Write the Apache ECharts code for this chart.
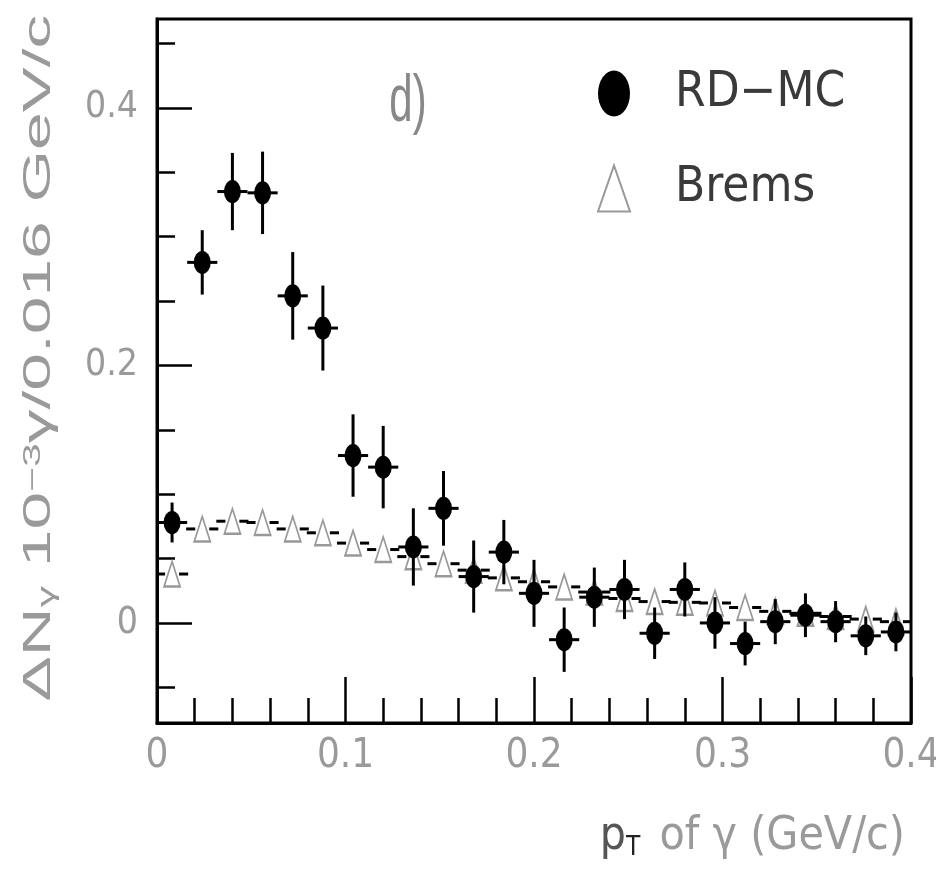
<!DOCTYPE html>
<html><head><meta charset="utf-8">
<script src="https://cdn.jsdelivr.net/npm/echarts@6/dist/echarts.min.js"></script>
<style>html,body{margin:0;padding:0;background:#fff}#c{width:936px;height:872px}</style>
</head><body><div id="c"></div>
<script>
// ---- data ----
const ptBins = [0.008,0.024,0.040,0.056,0.072,0.088,0.104,0.120,0.136,0.152,0.168,0.184,0.200,0.216,0.232,0.248,0.264,0.280,0.296,0.312,0.328,0.344,0.360,0.376,0.392];
const rdmc    = [0.078,0.280,0.335,0.334,0.254,0.229,0.130,0.121,0.059,0.089,0.036,0.055,0.023,-0.013,0.020,0.026,-0.008,0.026,0.000,-0.016,0.001,0.006,0.001,-0.010,-0.007];
const rdmcErr = [0.0155,0.025,0.030,0.032,0.034,0.033,0.032,0.032,0.030,0.029,0.028,0.025,0.026,0.025,0.023,0.023,0.020,0.021,0.020,0.017,0.0175,0.017,0.016,0.015,0.015];
const brems   = [0.038,0.073,0.079,0.078,0.073,0.070,0.062,0.057,0.0515,0.046,0.041,0.035,0.032,0.028,0.024,0.019,0.0166,0.016,0.0155,0.012,0.009,0.0075,0.005,0.003,0.001];
const binHalfWidth = 0.008;
const xTickValues = [0,0.1,0.2,0.3,0.4];
const xTickLabels = ['0','0.1','0.2','0.3','0.4'];
const yMajorTicks = [0,0.2,0.4];
const yTickLabels = ['0','0.2','0.4'];
const yMinorTicks = [-0.05,0.05,0.1,0.15,0.25,0.3,0.35,0.45];
const seriesNames = ['RD\u2212MC','Brems'];

const NARROW = "'Liberation Sans Narrow','DejaVu Sans Condensed','Liberation Sans',sans-serif";
const GREY = '#9a9a9a';
const yMin = -0.0777, yMax = 0.469;

const chart = echarts.init(document.getElementById('c'));

function rdErr(params, api){
  const x = api.value(0), y = api.value(1), e = api.value(2);
  const c = api.coord([x,y]), t = api.coord([x,y+e]), b = api.coord([x,y-e]);
  const l = api.coord([x-binHalfWidth,y]), r = api.coord([x+binHalfWidth,y]);
  const st = {stroke:'#000', lineWidth:3};
  return {type:'group', children:[
    {type:'line', shape:{x1:c[0],y1:t[1],x2:c[0],y2:b[1]}, style:st},
    {type:'line', shape:{x1:l[0],y1:c[1],x2:r[0],y2:c[1]}, style:st}
  ]};
}
function bremsErr(params, api){
  const x = api.value(0), y = api.value(1);
  const c = api.coord([x,y]);
  const l = api.coord([x-binHalfWidth,y]), r = api.coord([x+binHalfWidth,y]);
  const gap = 7;
  const st = {stroke:'#000', lineWidth:3};
  return {type:'group', children:[
    {type:'line', shape:{x1:l[0]-1,y1:c[1],x2:c[0]-gap,y2:c[1]}, style:st},
    {type:'line', shape:{x1:c[0]+gap,y1:c[1],x2:r[0]+1,y2:c[1]}, style:st}
  ]};
}
const fmt = (vals, labels) => v => { for (let i=0;i<vals.length;i++) if (Math.abs(vals[i]-v)<1e-9) return labels[i]; return ''; };

const ellipse = 'path://M0,23 A16,23 0 1,1 32,23 A16,23 0 1,1 0,23 Z';

chart.setOption({
  animation:false,
  backgroundColor:'#fff',
  grid:{left:157, right:25, top:19, bottom:149, containLabel:false, outerBoundsMode:'none',
        show:true, borderColor:'#000', borderWidth:3, backgroundColor:'transparent'},
  legend:{
    orient:'vertical', left:592, top:64, itemWidth:32, itemHeight:46, itemGap:46,
    symbolKeepAspect:false, selectedMode:false,
    data:seriesNames,
    textStyle:{fontSize:49, fontFamily:NARROW, color:'#3a3a3a', padding:[0,0,0,40]}
  },
  xAxis:{
    type:'value', min:0, max:0.4, interval:0.1,
    axisLine:{show:true, onZero:false, lineStyle:{color:'#000', width:3}},
    axisTick:{show:true, inside:true, length:46, lineStyle:{color:'#000', width:2.5}},
    minorTick:{show:true, splitNumber:5, length:25, lineStyle:{color:'#000', width:2.5}},
    splitLine:{show:false}, minorSplitLine:{show:false},
    axisLabel:{color:GREY, fontSize:40, fontFamily:NARROW, margin:14, formatter:fmt(xTickValues,xTickLabels)},
    name:'{p|p}{t|T} of \u03b3 (GeV/c)', nameLocation:'end', nameGap:-6,
    nameTextStyle:{align:'right', verticalAlign:'top', padding:[90,0,0,0], color:GREY, fontSize:46, fontFamily:NARROW,
      rich:{p:{color:'#555', fontSize:46, fontFamily:NARROW}, t:{color:'#222', fontSize:26, fontFamily:NARROW, verticalAlign:'bottom', padding:[22,6,0,0]}}}
  },
  yAxis:[{
    type:'value', min:yMin, max:yMax,
    axisLine:{show:true, onZero:false, lineStyle:{color:'#000', width:3}},
    axisTick:{show:true, inside:true, length:35, customValues:yMajorTicks, lineStyle:{color:'#000', width:2.5}},
    splitLine:{show:false},
    axisLabel:{color:GREY, fontSize:37, fontFamily:NARROW, margin:19, customValues:yMajorTicks, formatter:fmt(yMajorTicks,yTickLabels)}
  },{
    type:'value', min:yMin, max:yMax, position:'left',
    axisLine:{show:false, onZero:false},
    axisTick:{show:true, inside:true, length:18, customValues:yMinorTicks, lineStyle:{color:'#000', width:2.5}},
    splitLine:{show:false},
    axisLabel:{show:false}
  }],
  graphic:[
    {type:'text', x:40, y:358, rotation:Math.PI/2, scaleX:1.78, z:10,
     style:{text:'{n|\u0394N}{s|\u03b3} 10{p|\u22123}\u03b3/0.016 GeV/c', fill:GREY, fontSize:38, fontFamily:"'Liberation Sans',sans-serif", align:'center', verticalAlign:'middle',
       rich:{n:{fill:GREY, fontSize:38}, s:{fill:GREY, fontSize:24, verticalAlign:'bottom'}, p:{fill:GREY, fontSize:24, verticalAlign:'top'}}}},
    {type:'text', x:408, y:102, scaleY:1.6, z:10,
     style:{text:'d)', fill:'#888', fontSize:42, fontFamily:"'Liberation Sans',sans-serif", align:'center', verticalAlign:'middle'}}
  ],
  series:[
    {name:'Brems errors', type:'custom', renderItem:bremsErr, encode:{x:0,y:1}, z:2,
     data:ptBins.map((x,i)=>[x,brems[i]])},
    {name:seriesNames[1], type:'scatter', symbol:'triangle', symbolSize:[16,25], z:3,
     itemStyle:{color:'#fff', borderColor:'#999', borderWidth:2, opacity:1},
     data:ptBins.map((x,i)=>[x,brems[i]])},
    {name:'RD-MC errors', type:'custom', renderItem:rdErr, encode:{x:0,y:1}, z:4,
     data:ptBins.map((x,i)=>[x,rdmc[i],rdmcErr[i]])},
    {name:seriesNames[0], type:'scatter', symbol:ellipse, symbolSize:[17,23], z:5,
     itemStyle:{color:'#000', opacity:1},
     data:ptBins.map((x,i)=>[x,rdmc[i]])}
  ]
});
</script></body></html>
